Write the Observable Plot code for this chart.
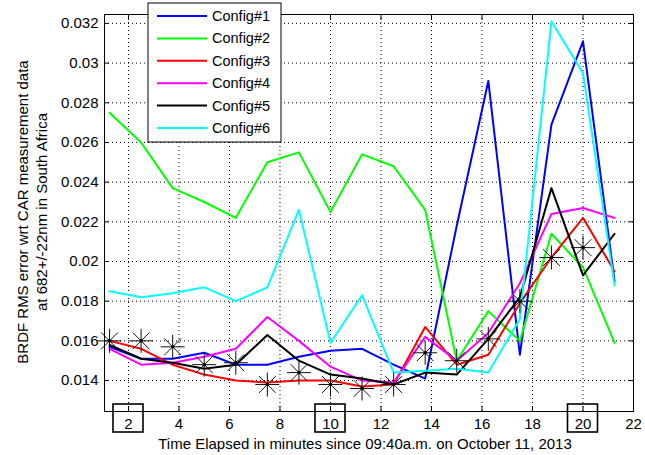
<!DOCTYPE html>
<html>
<head>
<meta charset="utf-8">
<script src="https://cdn.jsdelivr.net/npm/d3@7"></script>
<script src="https://cdn.jsdelivr.net/npm/@observablehq/plot@0.6"></script>
<style>
  html, body { margin: 0; padding: 0; background: #fff; }
  #chart { width: 645px; height: 455px; }
</style>
</head>
<body>
<div id="chart"></div>
<script>
// ---- data ----
const times = [1.25, 2.5, 3.75, 5, 6.25, 7.5, 8.75, 10, 11.25, 12.5, 13.75, 15, 16.25, 17.5, 18.75, 20, 21.25];
const config1 = [0.0157, 0.0151, 0.0151, 0.0154, 0.0148, 0.0148, 0.0152, 0.0155, 0.0156, 0.0148, 0.0141, 0.0218, 0.0291, 0.0153, 0.0269, 0.0311, 0.0190];
const config2 = [0.0275, 0.0260, 0.0237, 0.0230, 0.0222, 0.0250, 0.0255, 0.0225, 0.0254, 0.0248, 0.0226, 0.0150, 0.0175, 0.0160, 0.0214, 0.0197, 0.0159];
const config3 = [0.0160, 0.0156, 0.0148, 0.0143, 0.0140, 0.0139, 0.0140, 0.0140, 0.0137, 0.0138, 0.0167, 0.0148, 0.0153, 0.0179, 0.0202, 0.0222, 0.0195];
const config4 = [0.0156, 0.0148, 0.0149, 0.0152, 0.0156, 0.0172, 0.0160, 0.0147, 0.0140, 0.0139, 0.0162, 0.0150, 0.0164, 0.0189, 0.0224, 0.0227, 0.0222];
const config5 = [0.0158, 0.0151, 0.0149, 0.0146, 0.0148, 0.0163, 0.0150, 0.0143, 0.0141, 0.0138, 0.0144, 0.0143, 0.0161, 0.0182, 0.0237, 0.0193, 0.0214];
const config6 = [0.0185, 0.0182, 0.0184, 0.0187, 0.0180, 0.0187, 0.0226, 0.0159, 0.0183, 0.0144, 0.0145, 0.0146, 0.0144, 0.0171, 0.0321, 0.0295, 0.0188];
const starTimes = [1.25, 2.5, 3.75, 5, 6.25, 7.5, 8.75, 10, 11.25, 12.5, 13.75, 15, 16.25, 17.5, 18.75, 20];
const starValues = [0.0160, 0.0160, 0.0157, 0.0148, 0.0149, 0.0138, 0.0144, 0.0138, 0.0136, 0.0138, 0.0154, 0.0150, 0.0161, 0.0180, 0.0202, 0.0207];
const seriesNames = ["Config#1", "Config#2", "Config#3", "Config#4", "Config#5", "Config#6"];
const seriesColors = ["#0000ff", "#00ff00", "#ff0000", "#ff00ff", "#000000", "#00ffff"];
const xTicks = [2, 4, 6, 8, 10, 12, 14, 16, 18, 20, 22];
const yTicks = [0.014, 0.016, 0.018, 0.020, 0.022, 0.024, 0.026, 0.028, 0.030, 0.032];
const boxedTicks = [2, 10, 20];
const xLabel = "Time Elapsed in minutes since 09:40a.m. on October 11, 2013";
const yLabelLines = ["BRDF RMS error wrt CAR measurement data", "at 682+/-22nm in South Africa"];

// ---- build tables ----
const allSeries = [config1, config2, config3, config4, config5, config6];
const lineData = allSeries.map((vals, i) => vals.map((v, j) => ({t: times[j], v, name: seriesNames[i]})));
const starData = starTimes.map((t, j) => ({t, v: starValues[j]}));

// MATLAB-like '*' marker (plus + x)
const starSymbol = {
  draw(ctx, size) {
    const r = Math.sqrt(size / Math.PI);
    const d = r * 0.7;
    ctx.moveTo(-r, 0); ctx.lineTo(r, 0);
    ctx.moveTo(0, -r); ctx.lineTo(0, r);
    ctx.moveTo(-d, -d); ctx.lineTo(d, d);
    ctx.moveTo(-d, d); ctx.lineTo(d, -d);
  }
};

const font = "'Liberation Sans', Arial, Helvetica, sans-serif";
const fmtY = d => String(+d.toFixed(3));

const chart = Plot.plot({
  width: 645,
  height: 455,
  marginLeft: 104,
  marginRight: 12,
  marginTop: 14,
  marginBottom: 44,
  style: {fontFamily: font, fontSize: "15px", background: "#fff", color: "#000", overflow: "visible"},
  x: {domain: [1.05, 22]},
  y: {domain: [0.01244, 0.03245]},
  marks: [
    Plot.gridX(xTicks, {stroke: "#000", strokeOpacity: 1, strokeDasharray: "1,3"}),
    Plot.gridY(yTicks, {stroke: "#000", strokeOpacity: 1, strokeDasharray: "1,3"}),
    Plot.axisX(xTicks, {anchor: "bottom", tickSize: -5, tickPadding: 12, label: null, fontSize: 15}),
    Plot.axisX(xTicks, {anchor: "top", tickSize: -5, tickFormat: () => "", label: null}),
    Plot.axisY(yTicks, {anchor: "left", tickSize: -5, tickPadding: 11, tickFormat: fmtY, label: null, fontSize: 15}),
    Plot.axisY(yTicks, {anchor: "right", tickSize: -5, tickFormat: () => "", label: null}),
    ...lineData.map((d, i) => Plot.line(d, {x: "t", y: "v", stroke: seriesColors[i], strokeWidth: 2})),
    Plot.dot(starData, {x: "t", y: "v", symbol: starSymbol, r: 12, stroke: "#111", strokeWidth: 1, fill: "none"}),
    Plot.dot(starData, {x: "t", y: "v", r: 1.8, fill: "#000", stroke: "none"}),
    Plot.frame({stroke: "#000", strokeWidth: 1})
  ]
});

document.getElementById("chart").appendChild(chart);

const svg = d3.select(chart);
const xs = chart.scale("x");

// boxes around selected tick labels
svg.append("g").selectAll("rect").data(boxedTicks).join("rect")
  .attr("x", d => xs.apply(d) - 15)
  .attr("y", 404)
  .attr("width", 30)
  .attr("height", 28)
  .attr("fill", "none")
  .attr("stroke", "#000")
  .attr("stroke-width", 1.6);

// axis labels
svg.append("text")
  .attr("x", 365).attr("y", 449)
  .attr("text-anchor", "middle")
  .attr("font-family", font).attr("font-size", 15)
  .text(xLabel);

svg.append("g").selectAll("text").data(yLabelLines).join("text")
  .attr("transform", (d, i) => `translate(${28 + i * 19},212) rotate(-90)`)
  .attr("text-anchor", "middle")
  .attr("font-family", font).attr("font-size", 15)
  .text(d => d);

// legend
const lg = svg.append("g");
lg.append("rect").attr("x", 148).attr("y", 3).attr("width", 133).attr("height", 139)
  .attr("fill", "#fff").attr("stroke", "#000").attr("stroke-width", 1);
seriesNames.forEach((name, i) => {
  const yy = 16 + i * 22.4;
  lg.append("line").attr("x1", 157).attr("x2", 207).attr("y1", yy).attr("y2", yy)
    .attr("stroke", seriesColors[i]).attr("stroke-width", 2);
  lg.append("text").attr("x", 212).attr("y", yy).attr("dy", "0.35em")
    .attr("text-anchor", "start")
    .attr("font-family", font).attr("font-size", 14.5).text(name);
});
</script>
</body>
</html>
